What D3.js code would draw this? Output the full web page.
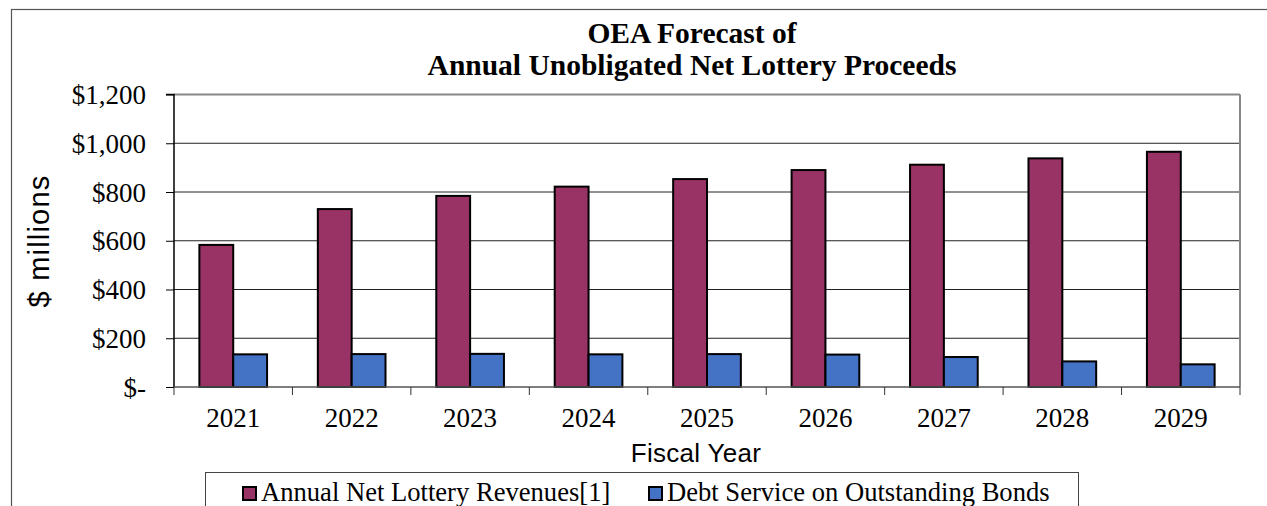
<!DOCTYPE html>
<html>
<head>
<meta charset="utf-8">
<script src="https://cdn.jsdelivr.net/npm/d3@7"></script>
<style>
  html, body { margin: 0; padding: 0; background: #fff; }
  svg { display: block; }
</style>
</head>
<body>
<svg id="chart" width="1267" height="506"></svg>
<script>
// ---- data ----
const years = ["2021", "2022", "2023", "2024", "2025", "2026", "2027", "2028", "2029"];
const netLotteryRevenues = [583, 730, 784, 822, 853, 890, 912, 938, 965];
const debtService = [134, 135, 136, 134, 135, 133, 123, 105, 93];
const seriesNames = ["Annual Net Lottery Revenues[1]", "Debt Service on Outstanding Bonds"];
const seriesColors = ["#993366", "#4472C4"];
const yTickValues = [0, 200, 400, 600, 800, 1000, 1200];
const yTickLabels = ["$-", "$200", "$400", "$600", "$800", "$1,000", "$1,200"];
const titleLines = ["OEA Forecast of", "Annual Unobligated Net Lottery Proceeds"];
const xTitle = "Fiscal Year";
const yTitle = "$ millions";

// ---- layout ----
const svg = d3.select("#chart");
const plot = { left: 174, right: 1240, top: 94.5, bottom: 387 };
const serif = "'Liberation Serif', 'Times New Roman', serif";
const sans = "'Liberation Sans', Arial, sans-serif";

// outer chart border
svg.append("rect")
  .attr("x", 11.5).attr("y", 9.5)
  .attr("width", 1300).attr("height", 600)
  .attr("fill", "#fff").attr("stroke", "#555").attr("stroke-width", 1.2);

const x = d3.scaleBand().domain(years).range([plot.left, plot.right]).padding(0);
const y = d3.scaleLinear().domain([0, 1200]).range([plot.bottom, plot.top]);

// gridlines
svg.append("g").selectAll("line")
  .data(yTickValues.filter(v => v > 0))
  .join("line")
  .attr("x1", plot.left).attr("x2", plot.right)
  .attr("y1", d => y(d)).attr("y2", d => y(d))
  .attr("stroke", "#222").attr("stroke-width", 1);

// plot area border (top, right)
svg.append("line")
  .attr("x1", plot.right).attr("x2", plot.right)
  .attr("y1", plot.top).attr("y2", plot.bottom)
  .attr("stroke", "#888").attr("stroke-width", 2);
svg.append("line")
  .attr("x1", plot.left).attr("x2", plot.right)
  .attr("y1", plot.top).attr("y2", plot.top)
  .attr("stroke", "#888").attr("stroke-width", 2);

// bars
const gap = 1.5; // gap width relative to bar width
const barW = x.bandwidth() / (2 + gap);
const series = [netLotteryRevenues, debtService];
series.forEach((vals, si) => {
  svg.append("g").selectAll("rect")
    .data(vals)
    .join("rect")
    .attr("x", (d, i) => x(years[i]) + (x.bandwidth() - 2 * barW) / 2 + si * barW)
    .attr("y", d => y(d))
    .attr("width", barW)
    .attr("height", d => y(0) - y(d))
    .attr("fill", seriesColors[si])
    .attr("stroke", "#000")
    .attr("stroke-width", 2);
});

// y axis
const yAxis = d3.axisLeft(y)
  .tickValues(yTickValues)
  .tickFormat((d, i) => yTickLabels[i])
  .tickSize(8)
  .tickPadding(20);
const gy = svg.append("g").attr("transform", `translate(${plot.left},0)`).call(yAxis);
gy.select(".domain").attr("stroke", "#000").attr("stroke-width", 1.5).attr("d", `M-8,${plot.top}H0V${plot.bottom}`);
gy.selectAll(".tick line").attr("stroke", "#000");
gy.selectAll(".tick text")
  .attr("font-family", serif).attr("font-size", 27).attr("fill", "#000")
  .attr("dy", "0.34em");

// x axis
const xAxis = d3.axisBottom(x).tickSize(0).tickPadding(0);
const gx = svg.append("g").attr("transform", `translate(0,${plot.bottom})`).call(xAxis);
gx.select(".domain").attr("stroke", "#555").attr("stroke-width", 1.5).attr("d", `M${plot.left},0H${plot.right}`);
gx.selectAll(".tick text")
  .attr("font-family", serif).attr("font-size", 27).attr("fill", "#000")
  .attr("y", 40).attr("dy", 0);
// category boundary tick marks
svg.append("g").selectAll("line")
  .data(years.concat(["end"]))
  .join("line")
  .attr("x1", (d, i) => i < years.length ? x(d) : plot.right)
  .attr("x2", (d, i) => i < years.length ? x(d) : plot.right)
  .attr("y1", plot.bottom).attr("y2", plot.bottom + 8)
  .attr("stroke", "#333").attr("stroke-width", 1);

// titles
svg.append("text")
  .attr("font-family", serif).attr("font-weight", "bold")
  .attr("font-size", 29.5).attr("text-anchor", "middle").attr("fill", "#000")
  .selectAll("tspan").data(titleLines).join("tspan")
  .attr("x", 692).attr("y", (d, i) => 43 + i * 32).text(d => d);

svg.append("text")
  .attr("x", 696).attr("y", 462)
  .attr("font-family", sans).attr("font-size", 26).attr("letter-spacing", 0.3)
  .attr("text-anchor", "middle").attr("fill", "#000")
  .text(xTitle);

svg.append("text")
  .attr("transform", "translate(49,241) rotate(-90)")
  .attr("font-family", sans).attr("font-size", 29).attr("letter-spacing", 1.2)
  .attr("text-anchor", "middle").attr("fill", "#000")
  .text(yTitle);

// legend
const lg = svg.append("g");
lg.append("rect")
  .attr("x", 205.5).attr("y", 472.5).attr("width", 873).attr("height", 60)
  .attr("fill", "#fff").attr("stroke", "#444").attr("stroke-width", 1);
const legendX = [243, 649];
seriesNames.forEach((name, i) => {
  lg.append("rect")
    .attr("x", legendX[i]).attr("y", 487).attr("width", 13).attr("height", 13)
    .attr("fill", seriesColors[i]).attr("stroke", "#000").attr("stroke-width", 2);
  lg.append("text")
    .attr("x", legendX[i] + 18).attr("y", 501)
    .attr("font-family", serif).attr("font-size", 26.6).attr("fill", "#000")
    .text(name);
});
</script>
</body>
</html>
